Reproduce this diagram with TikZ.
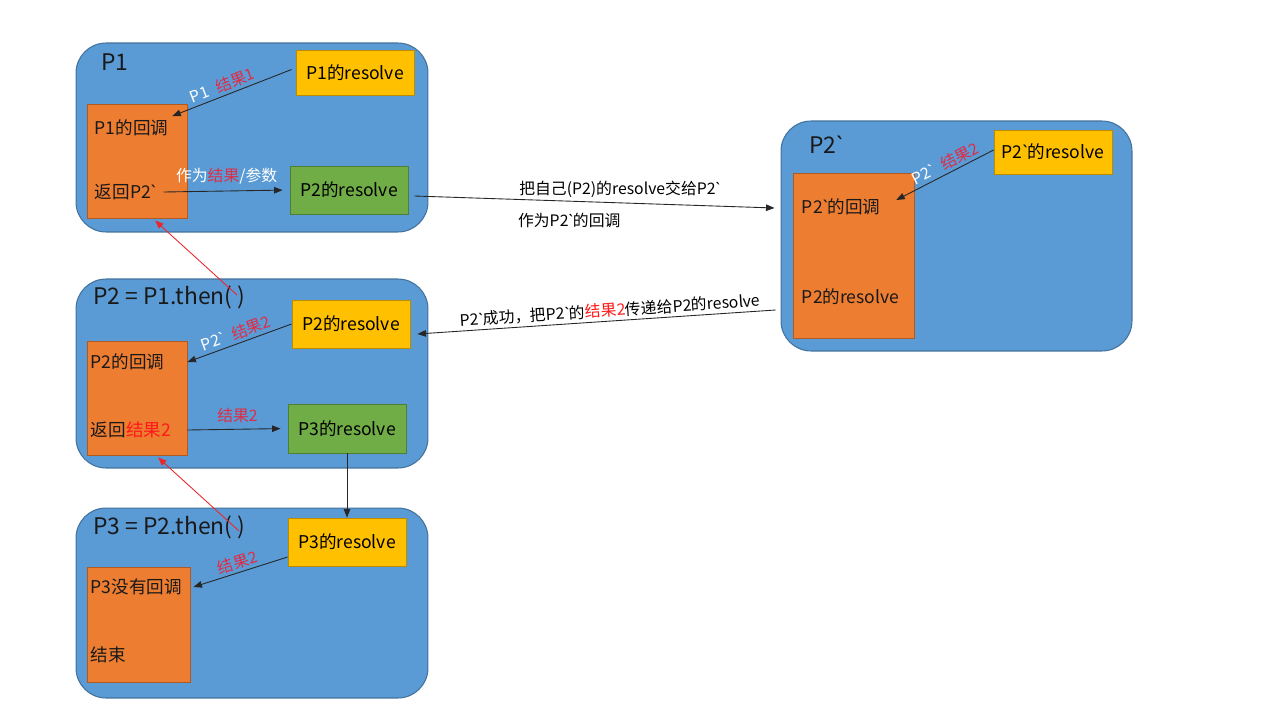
\documentclass[tikz,border=0pt]{standalone}
\usepackage{fontspec}
\usetikzlibrary{arrows.meta,calc,positioning}
\newfontfamily\cjk{Noto Sans CJK SC}
\newfontfamily\latinfont{Noto Sans}
\newcommand{\bq}{{\latinfont`}}
\definecolor{promiseblue}{RGB}{91,155,213}
\definecolor{promiseedge}{RGB}{65,113,156}
\definecolor{cborange}{RGB}{237,125,49}
\definecolor{cbedge}{RGB}{174,90,33}
\definecolor{resyellow}{RGB}{255,192,0}
\definecolor{resyedge}{RGB}{188,140,0}
\definecolor{resgreen}{RGB}{112,173,71}
\definecolor{resgedge}{RGB}{80,126,50}
\definecolor{lblred}{RGB}{222,45,70}
\definecolor{hotred}{RGB}{255,25,25}
\definecolor{backred}{RGB}{232,40,45}
\tikzset{
  promise/.style={draw=promiseedge,fill=promiseblue,line width=0.6pt,
    rounded corners=0.6cm,minimum width=7.04cm,inner sep=0pt},
  cbbox/.style={draw=cbedge,fill=cborange,line width=0.5pt,inner sep=0pt},
  resyel/.style={draw=resyedge,fill=resyellow,line width=0.5pt,
    minimum width=2.36cm,minimum height=0.94cm,inner sep=0pt},
  resgrn/.style={draw=resgedge,fill=resgreen,line width=0.5pt,
    minimum width=2.36cm,minimum height=0.96cm,inner sep=0pt},
  ptitle/.style={anchor=west,inner sep=0pt,text=black!90,
    font=\cjk\fontsize{13}{15}\selectfont},
  cbtext/.style={anchor=west,inner sep=2pt,text=black!90},
  link/.style={->,line width=0.5pt,black!85},
  backlink/.style={->,line width=0.5pt,backred},
  lbl/.style={font=\cjk\fontsize{9}{11}\selectfont,inner sep=1.5pt}
}

\begin{document}
\begin{tikzpicture}[x=0.02cm,y=-0.02cm,font=\cjk\fontsize{10}{12}\selectfont,
  >={Triangle[length=0.17cm,width=0.13cm]}]
\useasboundingbox (0,0) rectangle (1280,720);
% ---------- P1 ----------
\node[promise,minimum height=3.78cm] (p1) at (252,137.5) {};
\node[ptitle] (t1) at (101,62) {P1};
\node[resyel,minimum height=0.9cm] (y1) at (355,72.5) {P1的resolve};
\node[cbbox,minimum width=2cm,minimum height=2.28cm] (o1) at (137,161) {};
\node[cbtext] (cb1) at (91,128) {P1的回调};
\node[cbtext] (ret1) at (91,192) {返回P2\bq};
\node[resgrn] (g1) at (349,190) {P2的resolve};
% ---------- P2` ----------
\node[promise,minimum width=7.02cm,minimum height=4.6cm] (p2q) at (956.5,236) {};
\node[ptitle] (tq) at (809,145) {P2\bq};
\node[resyel,minimum height=0.88cm] (yq) at (1053,152) {P2\bq{}的resolve};
\node[cbbox,minimum width=2.42cm,minimum height=3.3cm] (oq) at (853.5,255.5) {};
\node[cbtext] (cbq) at (798,207) {P2\bq{}的回调};
\node[cbtext] (rq) at (798,297) {P2的resolve};
% ---------- P2 ----------
\node[promise,minimum height=3.78cm] (p2) at (252,373.5) {};
\node[ptitle] (t2) at (93,297) {P2 = P1.then( )};
\node[resyel,minimum height=0.96cm] (y2) at (351,324) {P2的resolve};
\node[cbbox,minimum width=2cm,minimum height=2.28cm] (o2) at (137,398) {};
\node[cbtext] (cb2) at (87,362) {P2的回调};
\node[cbtext] (ret2) at (87,430) {返回\textcolor{hotred}{结果2}};
\node[resgrn,minimum height=0.98cm] (g2) at (347,428.5) {P3的resolve};
% ---------- P3 ----------
\node[promise,minimum height=3.8cm] (p3) at (252,603) {};
\node[ptitle] (t3) at (93,527) {P3 = P2.then( )};
\node[resyel,minimum height=0.96cm] (y3) at (347,542) {P3的resolve};
\node[cbbox,minimum width=2.06cm,minimum height=2.3cm] (o3) at (138.5,624.5) {};
\node[cbtext] (cb3) at (87,587) {P3没有回调};
\node[cbtext] (end3) at (87,655) {结束};
% ---------- links ----------
\draw[link] ($(y1.west)+(-4,-3)$) -- (cb1.north east)
  node[lbl,pos=0.55,above,sloped]{\textcolor{white}{P1}\hspace{3pt} \textcolor{lblred}{结果1}};
\draw[link,shorten >=4pt] ($(ret1.east)+(4,0)$) -- (g1.west)
  node[lbl,midway,above=2pt]{\textcolor{white}{作为}\textcolor{lblred}{结果}\textcolor{white}{/参数}};
\draw[link] ($(g1.east)+(6,6)$) -- ($(p2q.west)+(-6,-28)$)
  node[lbl,pos=0.57,above=1pt,text=black]{把自己(P2)的resolve交给P2\bq}
  node[lbl,pos=0.43,below=5pt,text=black]{作为P2\bq{}的回调};
\draw[link] ($(yq.west)+(0,-2)$) -- ($(cbq.east)+(12,-7)$)
  node[lbl,pos=0.45,above,sloped]{\textcolor{white}{P2\bq}\hspace{3pt} \textcolor{lblred}{结果2}};
\draw[link] ($(p2q.west)+(-5,74)$) -- ($(y2.east)+(7,10)$)
  node[lbl,pos=0.46,above,sloped,text=black]{P2\bq{}成功，把P2\bq{}的\textcolor{hotred}{结果2}传递给P2的resolve};
\draw[link] (y2.west) -- (cb2.east -| o2.east)
  node[lbl,midway,above,sloped]{\textcolor{white}{P2\bq}\hspace{3pt} \textcolor{lblred}{结果2}};
\draw[link,shorten >=4pt] (ret2.east -| o2.east) -- (g2.west)
  node[lbl,midway,above=2pt,text=lblred]{结果2};
\draw[link] (g2.south) -- (y3.north);
\draw[link] ($(y3.west)+(0,15)$) -- ($(cb3.east -| o3.east)+(3,0)$)
  node[lbl,midway,above,sloped,text=lblred]{结果2};
% red back links
\coordinate (r1s) at (237,295);
\coordinate (r2s) at (239,531);
\draw[backlink] (r1s) -- ($(o1.south)+(18,2)$);
\draw[backlink] (r2s) -- ($(o2.south)+(21,2)$);
\end{tikzpicture}
\end{document}
